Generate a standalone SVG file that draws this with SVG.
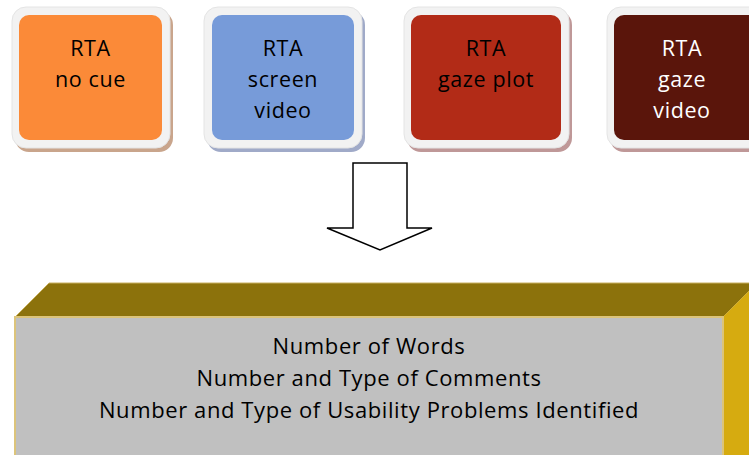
<svg xmlns="http://www.w3.org/2000/svg" width="749" height="455" viewBox="0 0 749 455">
  <style>
    .frame { fill: #f2f2f2; stroke: #e4e4e4; stroke-width: 1; }
    .lbl { font-family: "Open Sans", "Liberation Sans", sans-serif; font-size: 21.5px; letter-spacing: 0.6px; text-anchor: middle; fill: #000; }
    .lbl.light { fill: #ffffff; }
    .body { font-family: "Open Sans", "Liberation Sans", sans-serif; font-size: 22px; letter-spacing: 0.6px; text-anchor: middle; fill: #000; }
  </style>

  <rect width="749" height="455" fill="#ffffff"/>

  <!-- condition boxes -->
  <g id="node-no-cue">
    <rect x="15" y="11" width="158" height="141" rx="14" fill="#c9a58c"/>
    <rect class="frame" x="12" y="7" width="158" height="141" rx="14"/>
    <rect x="19" y="15" width="143" height="125" rx="10" fill="#fb8a38"/>
    <text class="lbl" x="90.5" y="56">RTA</text>
    <text class="lbl" x="90.5" y="87">no cue</text>
  </g>

  <g id="node-screen-video">
    <rect x="207" y="11" width="158" height="141" rx="14" fill="#a0aac8"/>
    <rect class="frame" x="204" y="7" width="158" height="141" rx="14"/>
    <rect x="212" y="15" width="142" height="125" rx="10" fill="#779bd9"/>
    <text class="lbl" x="283" y="56">RTA</text>
    <text class="lbl" x="283" y="87">screen</text>
    <text class="lbl" x="283" y="118">video</text>
  </g>

  <g id="node-gaze-plot">
    <rect x="407" y="11" width="165" height="141" rx="14" fill="#bf9898"/>
    <rect class="frame" x="404" y="7" width="165" height="141" rx="14"/>
    <rect x="411" y="15" width="150" height="125" rx="10" fill="#b22b17"/>
    <text class="lbl" x="486" y="56">RTA</text>
    <text class="lbl" x="486" y="87">gaze plot</text>
  </g>

  <g id="node-gaze-video">
    <rect x="610" y="11" width="165" height="141" rx="14" fill="#bf9898"/>
    <rect class="frame" x="607" y="7" width="165" height="141" rx="14"/>
    <rect x="614" y="15" width="150" height="125" rx="10" fill="#5a150b"/>
    <text class="lbl light" x="682" y="56">RTA</text>
    <text class="lbl light" x="682" y="87">gaze</text>
    <text class="lbl light" x="682" y="118">video</text>
  </g>

  <!-- block arrow -->
  <g id="connectors">
    <polygon points="353,163 407,163 407,228 432,228 380,250 327,228 353,228"
             fill="#ffffff" stroke="#000000" stroke-width="1.5" stroke-linejoin="miter"/>
  </g>

  <!-- measures block -->
  <g id="node-measures">
    <polygon points="15,317 49,283 757,283 723,317" fill="#8c720c" stroke="#c8b060" stroke-width="1"/>
    <polygon points="723,317 757,283 757,470 723,470" fill="#d6ab10"/>
    <rect x="15" y="317" width="708" height="150" fill="#c0c0c0" stroke="#dcc47a" stroke-width="2"/>
    <text class="body" x="369" y="354">Number of Words</text>
    <text class="body" x="369" y="386">Number and Type of Comments</text>
    <text class="body" x="369" y="418">Number and Type of Usability Problems Identified</text>
  </g>
</svg>
